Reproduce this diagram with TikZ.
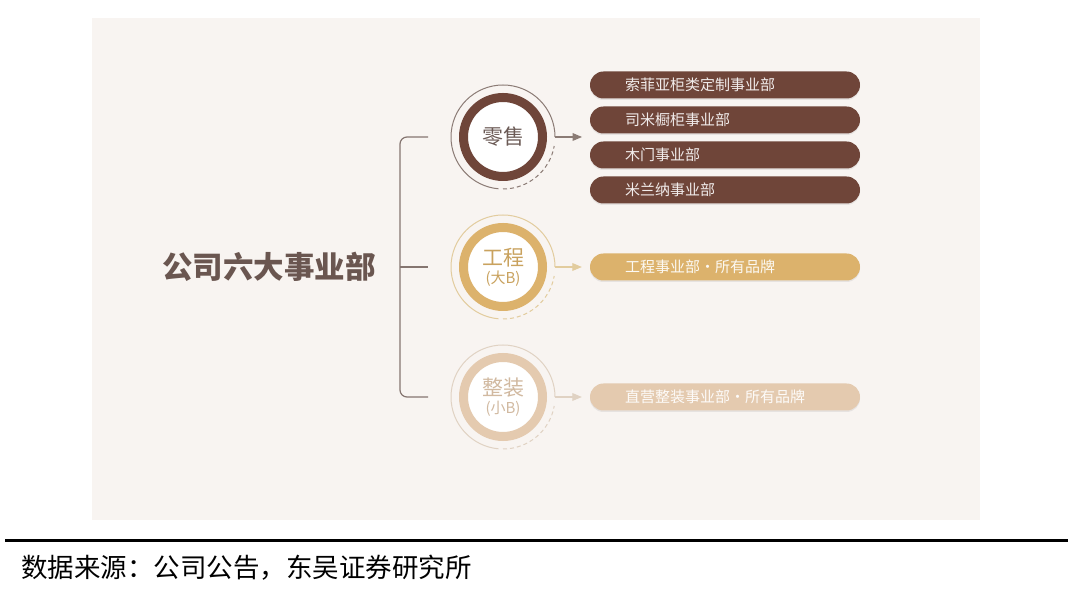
\documentclass[tikz,border=0pt]{standalone}
\usepackage{fontspec}
\newfontfamily\cjk{Noto Sans CJK SC}
\usepackage{tikz}
\usetikzlibrary{arrows}
\usetikzlibrary{shadows}
\definecolor{bgc}{HTML}{F8F4F1}
\definecolor{titlec}{HTML}{6A5650}
\definecolor{bracec}{HTML}{857570}
\definecolor{brownc}{HTML}{6F4539}
\definecolor{brownl}{HTML}{8B7B75}
\definecolor{brownt}{HTML}{6B5A55}
\definecolor{goldc}{HTML}{DCB26C}
\definecolor{goldl}{HTML}{E2CC9E}
\definecolor{goldt}{HTML}{C9A25E}
\definecolor{tanc}{HTML}{E4CAAF}
\definecolor{tanl}{HTML}{E0D2C3}
\definecolor{tant}{HTML}{D1B9A0}
\tikzstyle{every node}+=[inner sep=0pt]
\tikzstyle{hub}=[circle, fill=white, line width=9pt, minimum size=79pt, align=center]
\tikzstyle{halo}=[circle, minimum size=104pt, outer sep=0pt]
\tikzstyle{bar}=[rectangle, rounded corners=13.5pt, minimum height=27pt, text width=200pt, inner xsep=35pt, align=left, font=\cjk\fontsize{15}{15}\selectfont, drop shadow={shadow xshift=0pt, shadow yshift=-1.5pt, opacity=0.15}]
\tikzstyle{feed}=[line width=1.2pt, -triangle 45]

\begin{document}
\begin{tikzpicture}[x=1pt, y=1pt]
        \useasboundingbox (0,0) rectangle (1068,599);
        \fill [bgc] (92,79) rectangle (980,581);
        % title and bracket
        \node [font=\cjk\bfseries\fontsize{30.5}{30.5}\selectfont, text=titlec] (title) at (269,332) {公司六大事业部};
        \coordinate (bt) at (428,462);
        \coordinate (bm) at (428,332);
        \coordinate (bb) at (428,202);
        \draw [bracec, line width=1.2pt, rounded corners=7pt] (bt) -- (400,462) -- (400,202) -- (bb);
        \draw [bracec, line width=1.2pt] (400,332) -- (bm);
        % retail
        \node [hub, draw=brownc, text=brownt, font=\cjk\fontsize{21}{21}\selectfont] (ls) at (503,462) {零售};
        \node [halo] (lsh) at (ls) {};
        \draw [brownl, line width=1pt] (lsh.0) arc (0:265:52);
        \draw [brownl, line width=1pt, dash pattern=on 4pt off 3pt] (lsh.270) arc (270:350:52);
        \node [bar, fill=brownc, text=white!90!brownc] (ls1) at (725,514) {索菲亚柜类定制事业部};
        \node [bar, fill=brownc, text=white!90!brownc] (ls2) at (725,479) {司米橱柜事业部};
        \node [bar, fill=brownc, text=white!90!brownc] (ls3) at (725,444) {木门事业部};
        \node [bar, fill=brownc, text=white!90!brownc] (ls4) at (725,409) {米兰纳事业部};
        \coordinate (lsin) at (582,462);
        \draw [feed, brownl] (lsh.0) -- (lsin);
        % engineering
        \node [hub, draw=goldc, text=goldt] (gc) at (503,332) {{\cjk\fontsize{21}{21}\selectfont 工程}\\[3pt]{\cjk\fontsize{15}{15}\selectfont (大B)}};
        \node [halo] (gch) at (gc) {};
        \draw [goldl, line width=1pt] (gch.0) arc (0:265:52);
        \draw [goldl, line width=1pt, dash pattern=on 4pt off 3pt] (gch.270) arc (270:350:52);
        \node [bar, fill=goldc, text=white!92!goldc] (gb) at (725,332) {工程事业部·所有品牌};
        \draw [feed, goldl, shorten >=8pt] (gch.0) -- (gb.west);
        % fit-out
        \node [hub, draw=tanc, text=tant] (tc) at (503,202) {{\cjk\fontsize{21}{21}\selectfont 整装}\\[3pt]{\cjk\fontsize{15}{15}\selectfont (小B)}};
        \node [halo] (tch) at (tc) {};
        \draw [tanl, line width=1pt] (tch.0) arc (0:265:52);
        \draw [tanl, line width=1pt, dash pattern=on 4pt off 3pt] (tch.270) arc (270:350:52);
        \node [bar, fill=tanc, text=white!92!tanc] (tb) at (725,202) {直营整装事业部·所有品牌};
        \draw [feed, tanl, shorten >=8pt] (tch.0) -- (tb.west);
        % source line
        \draw [line width=3pt] (5,58) -- (1068,58);
        \node [anchor=west, font=\cjk\fontsize{26.5}{26.5}\selectfont] (src) at (21,31) {数据来源：公司公告，东吴证券研究所};
\end{tikzpicture}
\end{document}
